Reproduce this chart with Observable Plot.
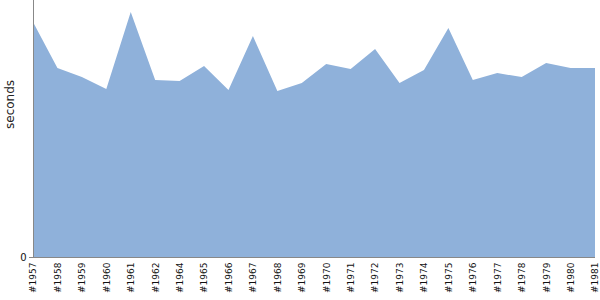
<!DOCTYPE html>
<html>
<head>
<meta charset="utf-8">
<script src="https://cdn.jsdelivr.net/npm/d3@7"></script>
<script src="https://cdn.jsdelivr.net/npm/@observablehq/plot@0.6"></script>
<style>
  html, body { margin: 0; padding: 0; background: #fff; }
</style>
</head>
<body>
<div id="chart"></div>
<script>
const categories = ["#1957","#1958","#1959","#1960","#1961","#1962","#1964","#1965","#1966","#1967","#1968","#1969","#1970","#1971","#1972","#1973","#1974","#1975","#1976","#1977","#1978","#1979","#1980","#1981"];
const seconds = [91.4,73.5,70.0,65.4,95.3,68.9,68.5,74.3,65.0,86.0,64.6,67.7,75.1,73.2,80.9,67.7,72.8,89.1,68.9,71.6,70.0,75.5,73.5,73.5];
const yTicks = [0];
const yLabel = "seconds";

const data = categories.map((c, i) => ({cat: c, v: seconds[i]}));

const chart = Plot.plot({
  width: 600,
  height: 300,
  marginLeft: 33,
  marginRight: 5,
  marginTop: 0,
  marginBottom: 43,
  style: {fontFamily: "DejaVu Sans", background: "#fff"},
  x: {type: "point", domain: categories, padding: 0, round: false},
  y: {domain: [0, 100]},
  marks: [
    Plot.areaY(data, {x: "cat", y: "v", fill: "#8fb1da"}),
    Plot.ruleY([0], {stroke: "#888"}),
    Plot.ruleX([categories[0]], {y1: 0, y2: 100, stroke: "#888"}),
    Plot.axisX({tickRotate: -90, tickSize: 0, tickPadding: 5, fontSize: 9, label: null, fill: "#111"}),
    Plot.axisY({ticks: yTicks, tickSize: 4, tickPadding: 3, fontSize: 10, label: null, stroke: "#888", fill: "#111"}),
    Plot.text([yLabel], {frameAnchor: "left", dx: -23, rotate: -90, fontSize: 12, fill: "#222"})
  ]
});
document.getElementById("chart").appendChild(chart);
</script>
</body>
</html>
